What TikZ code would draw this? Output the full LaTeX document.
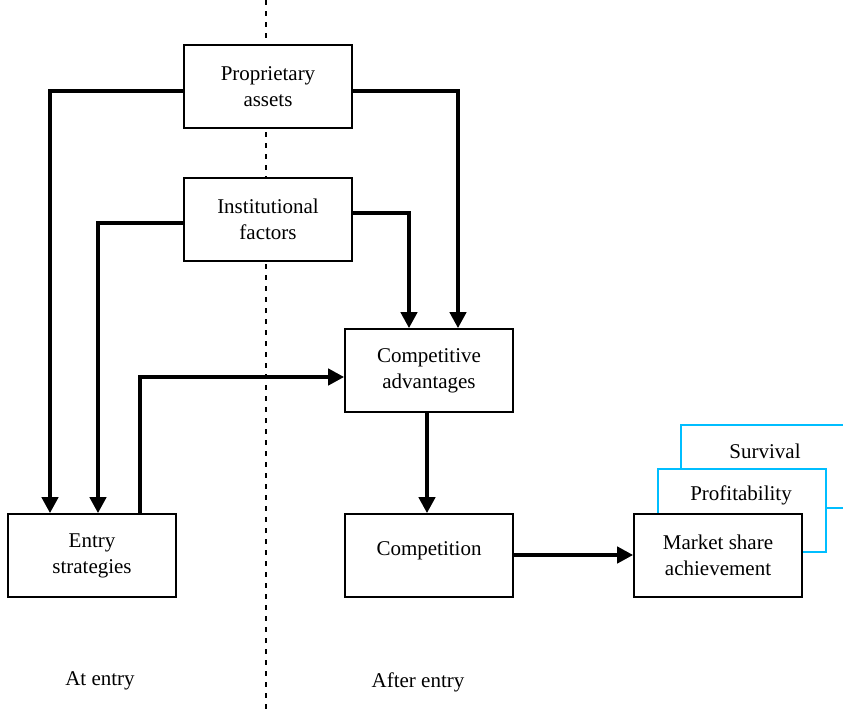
\documentclass[tikz,border=0pt]{standalone}
\usepackage{fontspec}
\setmainfont{Liberation Serif}
\usetikzlibrary{arrows.meta}
\definecolor{boxblue}{RGB}{0,190,255}
\begin{document}
\begin{tikzpicture}[x=1pt,y=-1pt,
  every node/.style={font=\fontsize{21}{26}\selectfont},
  box/.style={draw=black,line width=1.6pt,fill=white,minimum width=168pt,minimum height=83pt,
    inner sep=0pt,align=center},
  stackbox/.style={draw=boxblue,line width=1.6pt,fill=white},
  flow/.style={line width=4pt,-{Triangle[length=16pt,width=16pt]}},
  divider/.style={line width=2pt,dash pattern=on 5pt off 6pt}]
  \useasboundingbox (0,0) rectangle (843,712);

  % divider between the two phases
  \draw[divider] (266,0) -- (266,712);

  % outcome stack behind the last box
  \begin{scope}
    \clip (0,0) rectangle (843,712);
    \draw[stackbox] (681,425) rectangle (849,508);
    \node (surv) at (765,451) {Survival};
    \draw[stackbox] (658,469) rectangle (826,552);
    \node (prof) at (741,495) {Profitability};
  \end{scope}

  % main boxes
  \node[box] (prop) at (268,86.5) {Proprietary\\assets};
  \node[box] (inst) at (268,219.5) {Institutional\\factors};
  \node[box] (comp) at (429,370.5) {Competitive\\advantages};
  \node[box] (entry) at (92,555.5) {Entry\\strategies};
  \node[box] (cmpt) at (429,555.5) {\raisebox{13pt}{Competition}};
  \node[box] (mkt) at (718,555.5) {Market share\\achievement};

  % connectors
  \coordinate (pL) at (prop.west |- 0,91);
  \coordinate (pR) at (prop.east |- 0,91);
  \coordinate (iL) at (inst.west |- 0,223);
  \coordinate (iR) at (inst.east |- 0,213);
  \draw[flow] (pL) -| (entry.north -| 50,0);
  \draw[flow] (iL) -| (entry.north -| 98,0);
  \draw[flow] (pR) -| (comp.north -| 458,0);
  \draw[flow] (iR) -| (comp.north -| 409,0);
  \draw[flow] (entry.north -| 140,0) |- (comp.west |- 0,377);
  \draw[flow] (comp.south -| 427,0) -- (cmpt.north -| 427,0);
  \draw[flow] (cmpt.east |- 0,555) -- (mkt.west |- 0,555);

  % phase labels
  \node (at) at (100,681) {At entry};
  \node (after) at (418,682) {After entry};
\end{tikzpicture}
\end{document}
